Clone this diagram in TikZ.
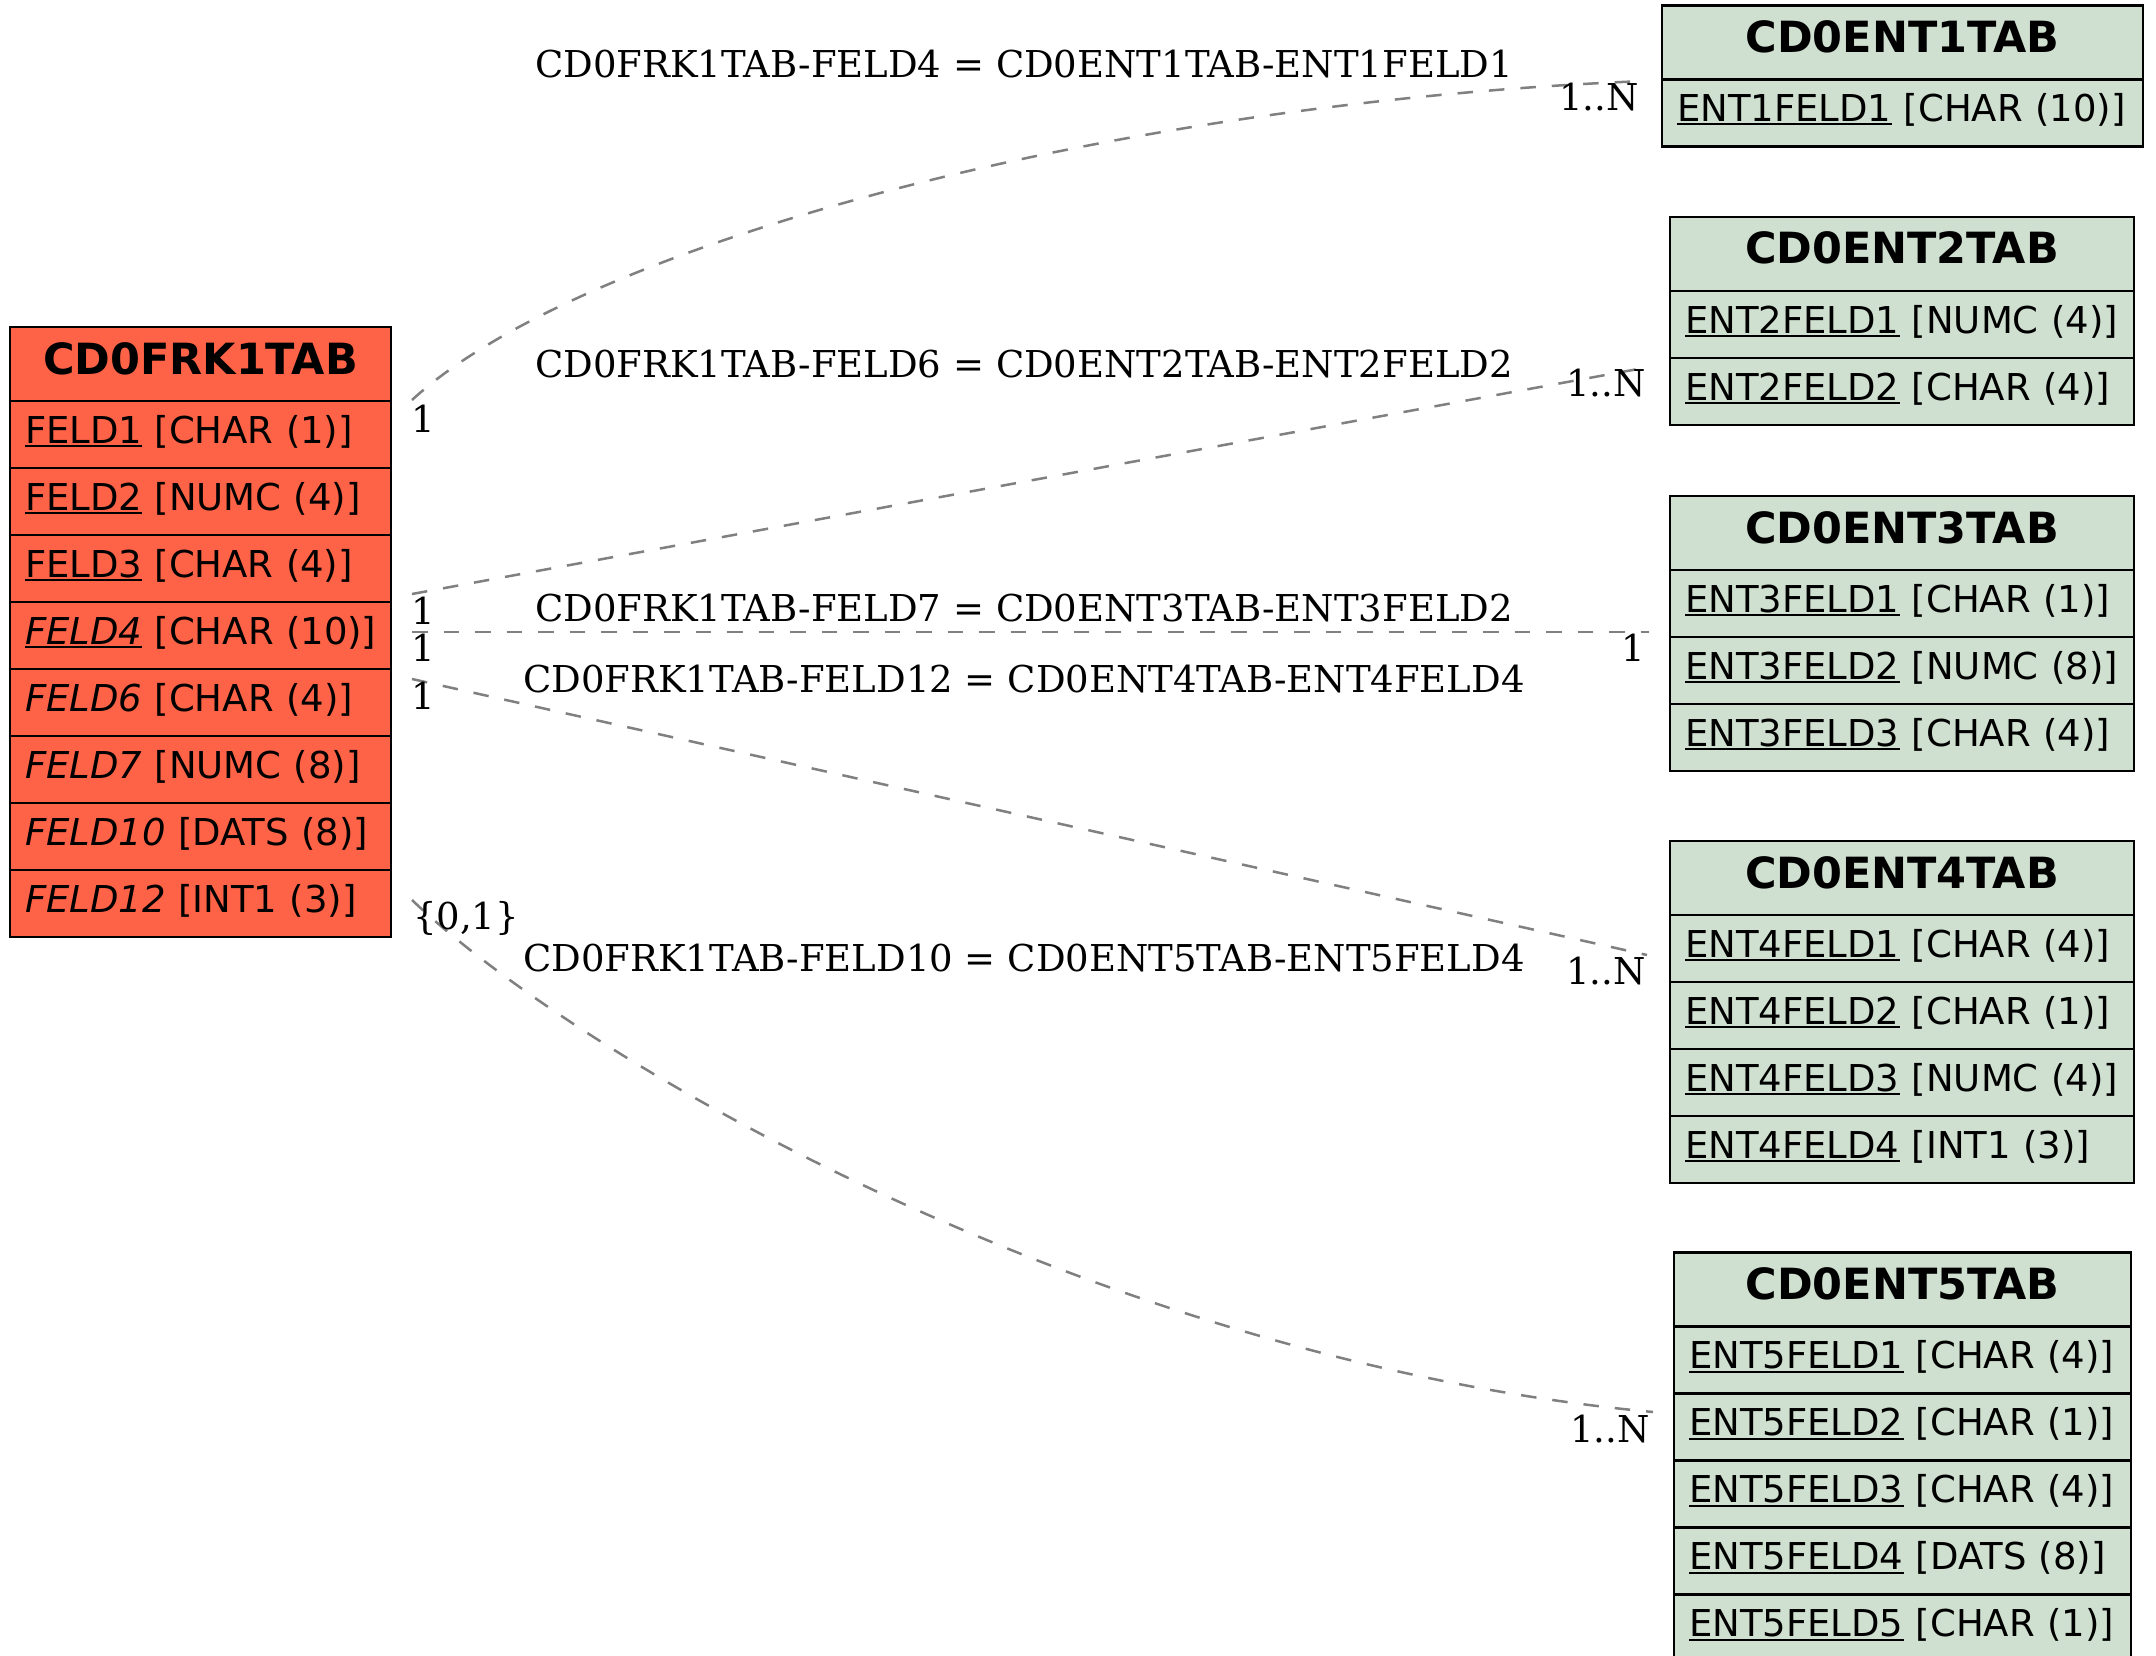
\documentclass[tikz,border=0pt]{standalone}
\usepackage{fontspec}
\newfontfamily\sansf{DejaVu Sans}
\newfontfamily\serf{DejaVu Serif}
\definecolor{frkfill}{RGB}{255,99,71}
\definecolor{entfill}{RGB}{208,224,208}
\definecolor{edgegray}{RGB}{128,128,128}
\newcommand\ulin[1]{\setbox0\hbox{#1}\rlap{\rule[-4pt]{\wd0}{2pt}}\box0\relax}
\tikzset{
  tabcell/.style={draw=black, line width=2.9pt, inner ysep=0pt, outer sep=0pt, anchor=north west},
  hdrcell/.style={tabcell, minimum height=74pt, minimum width=#1, inner xsep=0pt, text height=32pt, text depth=12pt, font=\sansf\fontsize{43}{48}\selectfont\bfseries},
  fldcell/.style={tabcell, minimum height=67pt, text width=#1, inner xsep=15pt, align=left, text height=28pt, text depth=11pt, font=\sansf\fontsize{37}{41}\selectfont},
  frk/.style={fill=frkfill},
  ent/.style={fill=entfill},
  rel/.style={draw=edgegray, line width=2.5pt, dash pattern=on 15.5pt off 16pt},
  lbl/.style={font=\serf\fontsize{37}{41}\selectfont, inner sep=0pt}
}
\begin{document}
\begin{tikzpicture}[x=1pt,y=-1pt]
\useasboundingbox[fill=white] (0,0) rectangle (2156,1656);
% ---- CD0FRK1TAB
\node[hdrcell=381pt, frk] (frk) at (10,327) {CD0FRK1TAB};
\node[fldcell=351pt, frk] (frk1) at (frk.south west) {\mbox{\ulin{FELD1} [CHAR (1)]}};
\node[fldcell=351pt, frk] (frk2) at (frk1.south west) {\mbox{\ulin{FELD2} [NUMC (4)]}};
\node[fldcell=351pt, frk] (frk3) at (frk2.south west) {\mbox{\ulin{FELD3} [CHAR (4)]}};
\node[fldcell=351pt, frk] (frk4) at (frk3.south west) {\mbox{\ulin{\itshape FELD4} [CHAR (10)]}};
\node[fldcell=351pt, frk] (frk6) at (frk4.south west) {\mbox{{\itshape FELD6} [CHAR (4)]}};
\node[fldcell=351pt, frk] (frk7) at (frk6.south west) {\mbox{{\itshape FELD7} [NUMC (8)]}};
\node[fldcell=351pt, frk] (frk10) at (frk7.south west) {\mbox{{\itshape FELD10} [DATS (8)]}};
\node[fldcell=351pt, frk] (frk12) at (frk10.south west) {\mbox{{\itshape FELD12} [INT1 (3)]}};
% ---- CD0ENT1TAB
\node[hdrcell=481pt, ent] (e1) at (1662,5.5) {CD0ENT1TAB};
\node[fldcell=451pt, ent] (e1f1) at (e1.south west) {\mbox{\ulin{ENT1FELD1} [CHAR (10)]}};
% ---- CD0ENT2TAB
\node[hdrcell=464pt, ent] (e2) at (1670,217) {CD0ENT2TAB};
\node[fldcell=434pt, ent] (e2f1) at (e2.south west) {\mbox{\ulin{ENT2FELD1} [NUMC (4)]}};
\node[fldcell=434pt, ent] (e2f2) at (e2f1.south west) {\mbox{\ulin{ENT2FELD2} [CHAR (4)]}};
% ---- CD0ENT3TAB
\node[hdrcell=464pt, ent] (e3) at (1670,496) {CD0ENT3TAB};
\node[fldcell=434pt, ent] (e3f1) at (e3.south west) {\mbox{\ulin{ENT3FELD1} [CHAR (1)]}};
\node[fldcell=434pt, ent] (e3f2) at (e3f1.south west) {\mbox{\ulin{ENT3FELD2} [NUMC (8)]}};
\node[fldcell=434pt, ent] (e3f3) at (e3f2.south west) {\mbox{\ulin{ENT3FELD3} [CHAR (4)]}};
% ---- CD0ENT4TAB
\node[hdrcell=464pt, ent] (e4) at (1670,841) {CD0ENT4TAB};
\node[fldcell=434pt, ent] (e4f1) at (e4.south west) {\mbox{\ulin{ENT4FELD1} [CHAR (4)]}};
\node[fldcell=434pt, ent] (e4f2) at (e4f1.south west) {\mbox{\ulin{ENT4FELD2} [CHAR (1)]}};
\node[fldcell=434pt, ent] (e4f3) at (e4f2.south west) {\mbox{\ulin{ENT4FELD3} [NUMC (4)]}};
\node[fldcell=434pt, ent] (e4f4) at (e4f3.south west) {\mbox{\ulin{ENT4FELD4} [INT1 (3)]}};
% ---- CD0ENT5TAB
\node[hdrcell=457pt, ent] (e5) at (1674,1252.5) {CD0ENT5TAB};
\node[fldcell=427pt, ent] (e5f1) at (e5.south west) {\mbox{\ulin{ENT5FELD1} [CHAR (4)]}};
\node[fldcell=427pt, ent] (e5f2) at (e5f1.south west) {\mbox{\ulin{ENT5FELD2} [CHAR (1)]}};
\node[fldcell=427pt, ent] (e5f3) at (e5f2.south west) {\mbox{\ulin{ENT5FELD3} [CHAR (4)]}};
\node[fldcell=427pt, ent] (e5f4) at (e5f3.south west) {\mbox{\ulin{ENT5FELD4} [DATS (8)]}};
\node[fldcell=427pt, ent] (e5f5) at (e5f4.south west) {\mbox{\ulin{ENT5FELD5} [CHAR (1)]}};
% ---- connector end points
\coordinate (a1) at (412,400);  \coordinate (b1) at (1645,81);
\coordinate (a2) at (412,594);  \coordinate (b2) at (1649,367);
\coordinate (a3) at (412,632);  \coordinate (b3) at (1649,632);
\coordinate (a4) at (412,679);  \coordinate (b4) at (1647,955);
\coordinate (a5) at (412,900);  \coordinate (b5) at (1653,1412);
% ---- connectors
\draw[rel] (a1) .. controls (578,247) and (1100,103) .. (b1);
\draw[rel] (a2) -- (b2);
\draw[rel] (a3) -- (b3);
\draw[rel] (a4) -- (b4);
\draw[rel] (a5) .. controls (578,1059) and (1100,1361) .. (b5);
% ---- relation labels
\node[lbl] (l1) at (1024,64.5) {CD0FRK1TAB-FELD4 = CD0ENT1TAB-ENT1FELD1};
\node[lbl] (l2) at (1024,364.5) {CD0FRK1TAB-FELD6 = CD0ENT2TAB-ENT2FELD2};
\node[lbl] (l3) at (1024,608.5) {CD0FRK1TAB-FELD7 = CD0ENT3TAB-ENT3FELD2};
\node[lbl] (l4) at (1024,679) {CD0FRK1TAB-FELD12 = CD0ENT4TAB-ENT4FELD4};
\node[lbl] (l5) at (1024,958) {CD0FRK1TAB-FELD10 = CD0ENT5TAB-ENT5FELD4};
% ---- cardinalities
\node[lbl] (c1a) at (423,419) {1};
\node[lbl] (c2a) at (423,611) {1};
\node[lbl] (c3a) at (423,648) {1};
\node[lbl] (c4a) at (423,696) {1};
\node[lbl] (c5a) at (466,918) {\{0,1\}};
\node[lbl] (c1b) at (1599,97.5) {1..N};
\node[lbl] (c2b) at (1606,383.5) {1..N};
\node[lbl] (c3b) at (1633,648) {1};
\node[lbl] (c4b) at (1606,971) {1..N};
\node[lbl] (c5b) at (1610,1429) {1..N};
\end{tikzpicture}
\end{document}
